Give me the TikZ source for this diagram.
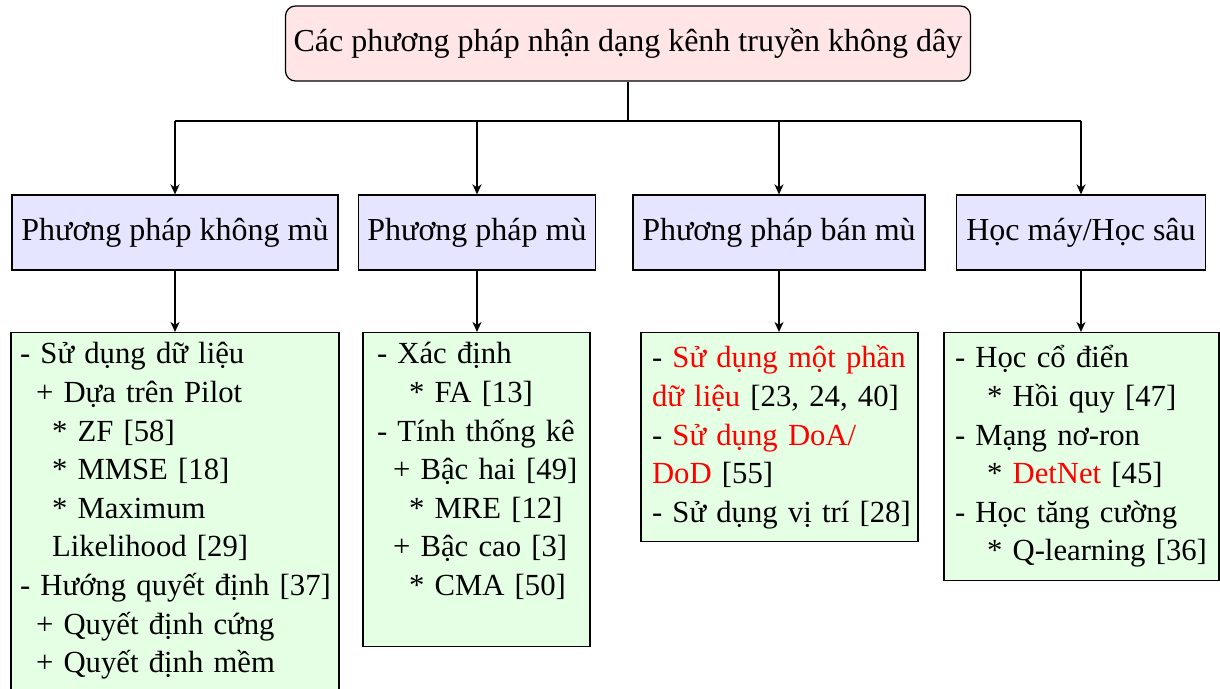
\documentclass[tikz,border=0pt]{standalone}
\usepackage{fontspec}
\setmainfont{Liberation Serif}
\usetikzlibrary{arrows.meta}
\begin{document}
\begin{tikzpicture}[x=1pt,y=-1pt,
  font=\fontsize{32}{38.6}\selectfont,
  rootbox/.style={draw, line width=1.2pt, rounded corners=10pt, fill=red!10,
    minimum width=685pt, minimum height=75pt, inner sep=0pt},
  catbox/.style={draw, line width=1.2pt, fill=blue!10, minimum height=75pt, inner sep=0pt},
  itembox/.style={draw, line width=1.2pt, fill=green!10, anchor=north, align=left,
    inner ysep=10pt, font=\fontsize{30.7}{38.6}\selectfont},
  link/.style={line width=2pt},
  arr/.style={line width=2pt, -{Stealth[length=10pt,width=9pt,inset=3pt]}}
]
\useasboundingbox (0,0) rectangle (1220,688);

% root
\node[rootbox] (root) at (628,43.5) {Các phương pháp nhận dạng kênh truyền không dây};

% categories
\node[catbox, minimum width=326pt] (c1) at (175,232.5) {Phương pháp không mù};
\node[catbox, minimum width=237pt] (c2) at (477,232.5) {Phương pháp mù};
\node[catbox, minimum width=292pt] (c3) at (779,232.5) {Phương pháp bán mù};
\node[catbox, minimum width=249pt] (c4) at (1081,232.5) {Học máy/Học sâu};

% details (one \mbox per printed line, so nothing is re-wrapped)
\node[itembox, inner xsep=9pt, text width=310pt] (d1) at (175,332) {%
\mbox{- Sử dụng dữ liệu}\\
\mbox{\hspace*{16pt}+ Dựa trên Pilot}\\
\mbox{\hspace*{32pt}* ZF [58]}\\
\mbox{\hspace*{32pt}* MMSE [18]}\\
\mbox{\hspace*{32pt}* Maximum}\\
\mbox{\hspace*{32pt}Likelihood [29]}\\
\mbox{- Hướng quyết định [37]}\\
\mbox{\hspace*{16pt}+ Quyết định cứng}\\
\mbox{\hspace*{16pt}+ Quyết định mềm}};

\node[itembox, inner xsep=14pt, text width=199pt] (d2) at (476.5,332) {%
\mbox{- Xác định}\\
\mbox{\hspace*{32pt}* FA [13]}\\
\mbox{- Tính thống kê}\\
\mbox{\hspace*{16pt}+ Bậc hai [49]}\\
\mbox{\hspace*{32pt}* MRE [12]}\\
\mbox{\hspace*{16pt}+ Bậc cao [3]}\\
\mbox{\hspace*{32pt}* CMA [50]}\\[2pt]
\mbox{}};

\node[itembox, inner xsep=11pt, inner ysep=13pt, text width=255pt] (d3) at (779.5,332) {%
\mbox{- \textcolor{red}{Sử dụng một phần}}\\
\mbox{\textcolor{red}{dữ liệu} [23, 24, 40]}\\
\mbox{- \textcolor{red}{Sử dụng DoA/}}\\
\mbox{\textcolor{red}{DoD} [55]}\\
\mbox{- Sử dụng vị trí [28]}};

\node[itembox, inner xsep=11pt, inner ysep=13pt, text width=253pt] (d4) at (1081.5,332) {%
\mbox{- Học cổ điển}\\
\mbox{\hspace*{32pt}* Hồi quy [47]}\\
\mbox{- Mạng nơ-ron}\\
\mbox{\hspace*{32pt}* \textcolor{red}{DetNet} [45]}\\
\mbox{- Học tăng cường}\\
\mbox{\hspace*{32pt}* Q-learning [36]}};

% connectors
\draw[link] (root.south) -- ++(0,39) coordinate (j);
\draw[link] (c1.north |- j) -- (c4.north |- j);
\foreach \c in {c1,c2,c3,c4}
  \draw[arr] (\c.north |- j) -- (\c.north);
\draw[arr] (c1.south) -- (c1.south |- d1.north);
\draw[arr] (c2.south) -- (c2.south |- d2.north);
\draw[arr] (c3.south) -- (c3.south |- d3.north);
\draw[arr] (c4.south) -- (c4.south |- d4.north);
\end{tikzpicture}
\end{document}
